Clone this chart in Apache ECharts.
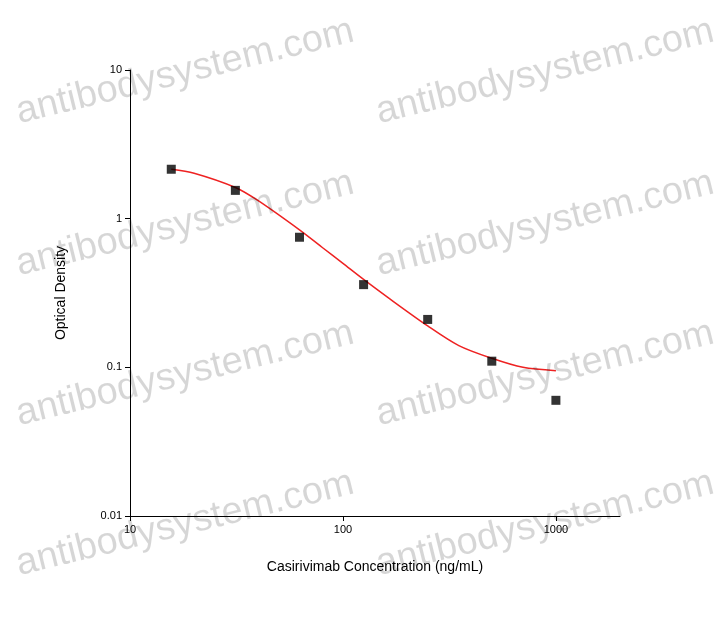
<!DOCTYPE html>
<html><head><meta charset="utf-8">
<script src="https://cdn.jsdelivr.net/npm/echarts@6/dist/echarts.min.js"></script>
<style>html,body{margin:0;padding:0;background:#fff}#c{width:727px;height:623px}</style>
</head><body><div id="c"></div>
<script>
const pointX = [15.625, 31.25, 62.5, 125, 250, 500, 1000];
const pointY = [2.15, 1.55, 0.75, 0.36, 0.21, 0.11, 0.06];
const curveX = [15.625, 20, 31.25, 40, 62.5, 80, 100, 125, 160, 250, 350, 500, 700, 1000];
const curveY = [2.15, 2.02, 1.62, 1.32, 0.84, 0.64, 0.5, 0.39, 0.3, 0.19, 0.14, 0.115, 0.1, 0.095];
const watermark = 'antibodysystem.com';
const wmPos = [[185,72],[545,72],[185,224],[545,224],[185,374],[545,374],[185,524],[545,524]];

const chart = echarts.init(document.getElementById('c'));
const font = 'Liberation Sans, Arial, sans-serif';
chart.setOption({
  animation:false,
  grid:{left:130,right:107,top:70,bottom:107},
  xAxis:{type:'log',min:10,max:2000,logBase:10,
    name:'Casirivimab Concentration (ng/mL)',nameLocation:'middle',nameGap:44,
    nameTextStyle:{fontFamily:font,fontSize:14,color:'#000'},
    axisLine:{lineStyle:{color:'#000'}},axisTick:{lineStyle:{color:'#000'},length:5},
    splitLine:{show:false},
    axisLabel:{fontFamily:font,fontSize:11,color:'#000',showMaxLabel:false,formatter:v=>String(v)}},
  yAxis:{type:'log',min:0.01,max:10,logBase:10,
    name:'Optical Density',nameLocation:'middle',nameGap:62,
    nameTextStyle:{fontFamily:font,fontSize:14,color:'#000'},
    axisLine:{show:true,lineStyle:{color:'#000'}},axisTick:{show:true,lineStyle:{color:'#000'},length:5},
    splitLine:{show:false},
    axisLabel:{fontFamily:font,fontSize:11,color:'#000',formatter:v=>String(+v.toPrecision(3))}},
  series:[
    {type:'line',data:curveX.map((x,i)=>[x,curveY[i]]),smooth:0.3,showSymbol:false,
     lineStyle:{color:'#ee2222',width:1.5},z:2},
    {type:'scatter',data:pointX.map((x,i)=>[x,pointY[i]]),symbol:'rect',symbolSize:9,
     itemStyle:{color:'#000'},z:3}
  ],
  graphic: wmPos.map(p=>({type:'text',x:p[0],y:p[1],rotation:0.24,z:100,
    style:{text:watermark,fontFamily:font,fontSize:38,fill:'rgba(0,0,0,0.16)',align:'center',verticalAlign:'middle'}}))
});
</script></body></html>
